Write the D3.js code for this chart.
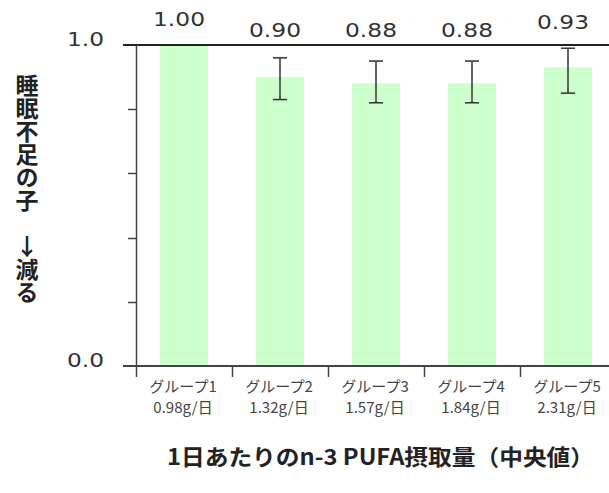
<!DOCTYPE html>
<html>
<head>
<meta charset="utf-8">
<script src="https://cdn.jsdelivr.net/npm/d3@7"></script>
<style>
  html, body { margin: 0; padding: 0; background: #ffffff; }
  svg { display: block; }
</style>
</head>
<body>
<script>
// Sleep-deprivation odds by daily n-3 PUFA intake group
const groups = ["グループ1", "グループ2", "グループ3", "グループ4", "グループ5"];
const intakes = ["0.98g/日", "1.32g/日", "1.57g/日", "1.84g/日", "2.31g/日"];
const ratios = [1.00, 0.90, 0.88, 0.88, 0.93];
const ciLow = [null, 0.83, 0.82, 0.82, 0.85];
const ciHigh = [null, 0.96, 0.95, 0.95, 0.99];
const yTicks = [0, 0.2, 0.4, 0.6, 0.8, 1.0];
const yTickLabels = ["0.0", "", "", "", "", "1.0"];
const yTitle = "睡眠不足の子\u3000↓減る";
const xTitle = "1日あたりのn-3 PUFA摂取量（中央値）";

const W = 609, H = 493;
const svg = d3.select("body").append("svg")
  .attr("width", W).attr("height", H)
  .attr("viewBox", `0 0 ${W} ${H}`);

const x = d3.scaleBand().domain(groups).range([136, 616])
  .paddingInner(0.5).paddingOuter(0.25);
const y = d3.scaleLinear().domain([0, 1]).range([366, 45]);
const bw = x.bandwidth();
const edge = g => x(g) - (x.step() - bw) / 2;   // left boundary of a group's band
const mid = g => x(g) + bw / 2;

const rows = groups.map((g, i) => ({
  g, intake: intakes[i], v: ratios[i], lo: ciLow[i], hi: ciHigh[i]
}));

// bars
svg.append("g").selectAll("rect").data(rows).join("rect")
  .attr("x", d => x(d.g)).attr("y", d => y(d.v))
  .attr("width", bw).attr("height", d => y(0) - y(d.v))
  .attr("fill", "#ccffcc");

// reference lines at 0 and 1
svg.append("g").selectAll("line").data([0, 1]).join("line")
  .attr("x1", 123).attr("x2", W)
  .attr("y1", d => y(d)).attr("y2", d => y(d))
  .attr("stroke", d => d === 1 ? "#222" : "#444")
  .attr("stroke-width", 2);

// y axis
const yAxis = svg.append("g");
yAxis.append("line")
  .attr("x1", 136.5).attr("x2", 136.5)
  .attr("y1", y(1)).attr("y2", 377)
  .attr("stroke", "#444").attr("stroke-width", 1.5);
yAxis.selectAll("line.tick").data(yTicks.filter(t => t > 0 && t < 1)).join("line")
  .attr("class", "tick")
  .attr("x1", 128).attr("x2", 136)
  .attr("y1", d => Math.round(y(d)) + 0.5).attr("y2", d => Math.round(y(d)) + 0.5)
  .attr("stroke", "#444").attr("stroke-width", 1.5);
yAxis.selectAll("text").data(yTicks.map((t, i) => ({ t, s: yTickLabels[i] })).filter(d => d.s))
  .join("text")
  .attr("x", 104).attr("y", d => y(d.t) + 1)
  .attr("text-anchor", "end")
  .attr("font-family", "'DejaVu Sans', Verdana, sans-serif")
  .attr("font-size", 20)
  .attr("textLength", 37).attr("lengthAdjust", "spacingAndGlyphs")
  .attr("fill", "#333")
  .text(d => d.s);

// x ticks on band boundaries
svg.append("g").selectAll("line").data(groups.slice(1)).join("line")
  .attr("x1", d => Math.round(edge(d)) + 0.5).attr("x2", d => Math.round(edge(d)) + 0.5)
  .attr("y1", y(0)).attr("y2", 377)
  .attr("stroke", "#444").attr("stroke-width", 1.5);

// x category labels (two lines)
const xl = svg.append("g")
  .attr("font-family", "'Noto Sans CJK JP', sans-serif")
  .attr("font-size", 15).attr("fill", "#444").attr("text-anchor", "middle");
xl.selectAll("text.grp").data(rows).join("text").attr("class", "grp")
  .attr("x", d => mid(d.g) - 1).attr("y", 392).text(d => d.g);
xl.selectAll("text.amt").data(rows).join("text").attr("class", "amt")
  .attr("x", d => mid(d.g) - 1).attr("y", 413).text(d => d.intake);

// confidence intervals
const eb = svg.append("g").attr("stroke", "#333").attr("stroke-width", 1.5)
  .selectAll("g").data(rows.filter(d => d.lo != null)).join("g");
eb.append("line").attr("x1", d => mid(d.g)).attr("x2", d => mid(d.g))
  .attr("y1", d => y(d.hi)).attr("y2", d => y(d.lo));
eb.append("line").attr("x1", d => mid(d.g) - 7).attr("x2", d => mid(d.g) + 7)
  .attr("y1", d => y(d.hi)).attr("y2", d => y(d.hi));
eb.append("line").attr("x1", d => mid(d.g) - 7).attr("x2", d => mid(d.g) + 7)
  .attr("y1", d => y(d.lo)).attr("y2", d => y(d.lo));

// value labels above each bar
svg.append("g").selectAll("text").data(rows).join("text")
  .attr("x", d => mid(d.g) - 5)
  .attr("y", d => Math.min(y(d.hi != null ? d.hi : d.v) - 19, 37))
  .attr("text-anchor", "middle")
  .attr("font-family", "'DejaVu Sans', Verdana, sans-serif")
  .attr("font-size", 20)
  .attr("textLength", 52).attr("lengthAdjust", "spacingAndGlyphs")
  .attr("fill", "#333")
  .text(d => d3.format(".2f")(d.v));

// y title, written vertically
svg.append("text")
  .attr("x", 27).attr("y", 74)
  .attr("writing-mode", "vertical-rl")
  .style("text-orientation", "upright")
  .attr("font-family", "'Noto Sans CJK JP', sans-serif")
  .attr("font-weight", 700).attr("font-size", 23)
  .attr("fill", "#222")
  .text(yTitle);

// x title
svg.append("text")
  .attr("x", 167).attr("y", 465)
  .attr("font-family", "'Noto Sans CJK JP', sans-serif")
  .attr("font-weight", 700).attr("font-size", 22)
  .attr("textLength", 427).attr("lengthAdjust", "spacingAndGlyphs")
  .attr("fill", "#222")
  .text(xTitle);
</script>
</body>
</html>
